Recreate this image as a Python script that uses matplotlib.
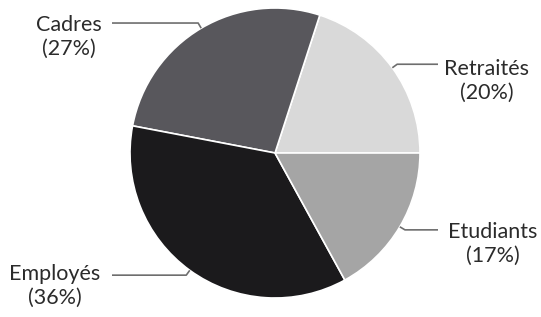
import numpy as np
import matplotlib
matplotlib.use("Agg")
import matplotlib.pyplot as plt

# data
labels = ["Retraités", "Cadres", "Employés", "Etudiants"]
shares = [20, 27, 36, 17]
colors = ["#d9d9d9", "#58575c", "#1b1a1c", "#a5a5a5"]

W, H = 541, 317
fig = plt.figure(figsize=(W / 100, H / 100), dpi=100)
ax = fig.add_axes([0, 0, 1, 1])
ax.set_xlim(0, W)
ax.set_ylim(0, H)
ax.set_aspect("equal")
ax.axis("off")

cx, cy, r = 275, H - 153, 145
wedges, _ = ax.pie(shares, colors=colors, startangle=0, counterclock=True,
                   center=(cx, cy), radius=r, frame=True,
                   wedgeprops=dict(edgecolor="white", linewidth=1.2))
ax.set_xlim(0, W)
ax.set_ylim(0, H)
ax.axis("off")

# label placement: (text x, text y, line end x, side)
label_pos = {
    "Cadres": (69, H - 37, 112),
    "Retraités": (487, H - 81, 438),
    "Etudiants": (493, H - 244, 438),
    "Employés": (55, H - 286, 112),
}

for w, lab, s in zip(wedges, labels, shares):
    mid = np.deg2rad((w.theta1 + w.theta2) / 2)
    x0, y0 = cx + r * np.cos(mid), cy + r * np.sin(mid)
    x1, y1 = cx + (r + 6) * np.cos(mid), cy + (r + 6) * np.sin(mid)
    tx, ty, lx = label_pos[lab]
    ax.plot([x0, x1, lx], [y0, y1, y1], color="#6e6e6e", lw=1.2,
            solid_capstyle="butt")
    ax.text(tx, ty, f"{lab}\n({s}%)", ha="center", va="center",
            multialignment="center", fontsize=15.5, family="Lato",
            color="#2b2b2b", linespacing=1.2)

fig.savefig("out.png", dpi=100)
